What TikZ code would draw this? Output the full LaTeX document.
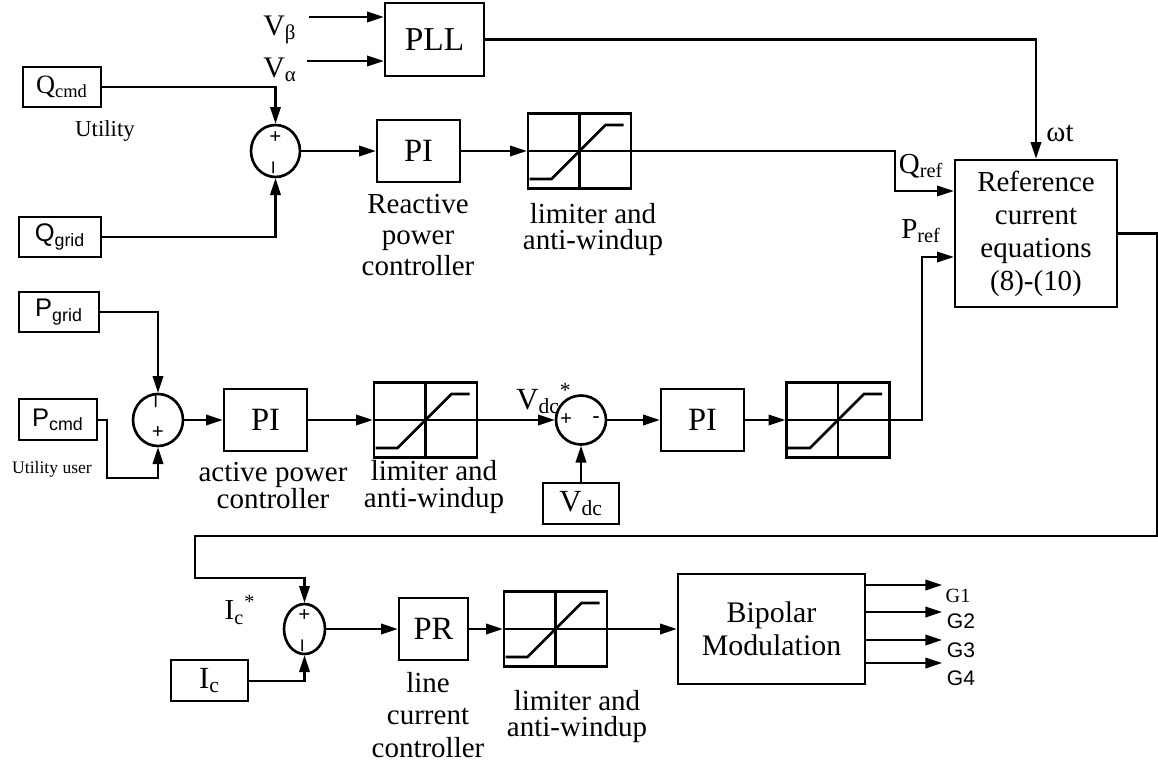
\documentclass[tikz,border=0pt]{standalone}
\usepackage{fontspec}
\setmainfont{Liberation Serif}
\newfontfamily\arialfont{Liberation Sans}
\usetikzlibrary{arrows.meta, shapes.geometric, calc}

\begin{document}
\begin{tikzpicture}[x=0.02cm, y=-0.02cm,
  blk/.style={draw, line width=1.5pt, inner sep=0pt, align=center, font=\fontsize{16.5}{18.8}\selectfont},
  inp/.style={blk, minimum width=1.56cm, minimum height=0.8cm, font=\fontsize{15}{16}\selectfont},
  sinp/.style={inp, font=\arialfont\fontsize{14.5}{16}\selectfont},
  ctl/.style={blk, minimum width=1.66cm, minimum height=1.24cm, font=\fontsize{18.5}{20}\selectfont},
  lim/.style={draw, line width=1.5pt, minimum width=2.06cm, minimum height=1.5cm, inner sep=0pt},
  sm/.style={draw, ellipse, line width=1.5pt, minimum width=1cm, minimum height=1.04cm, inner sep=0pt},
  sgn/.style={font=\fontsize{12}{12}\selectfont\bfseries, inner sep=0pt},
  sgnm/.style={font=\fontsize{13}{13}\selectfont\bfseries, inner sep=0pt, rotate=90},
  lbl/.style={font=\fontsize{16.5}{18.8}\selectfont, align=center, inner sep=0pt},
  wire/.style={line width=1.15pt},
  arr/.style={wire, -{Triangle[length=9.5pt, width=6pt]}},
]
  \useasboundingbox (0,0) rectangle (1158,765);

  % PLL
  \node[blk, minimum width=1.98cm, minimum height=1.46cm, font=\fontsize{19}{20}\selectfont] (pll) at (434.5, 39.5) {PLL};
  \coordinate (vb) at (309, 17);
  \coordinate (va) at (307, 61);
  \draw[arr] (vb) -- (vb -| pll.west);
  \draw[arr] (va) -- (va -| pll.west);
  \node[lbl, anchor=base west, font=\fontsize{17}{17}\selectfont] (vblbl) at (263, 35) {V\textsubscript{β}};
  \node[lbl, anchor=base west, font=\fontsize{17}{17}\selectfont] (valbl) at (263, 77) {V\textsubscript{α}};

  % Reference current block
  \node[blk] (ref) at (1036, 233.5) [minimum width=3.24cm, minimum height=2.94cm] {Reference\\current\\equations\\(8)-(10)};
  \draw[arr] (pll.east) -| (ref.north);
  \node[lbl] (wt) at (1060, 133) {ωt};
  \node[lbl] (qref) at (921, 166) {Q\textsubscript{ref}};
  \node[lbl] (pref) at (921, 231) {P\textsubscript{ref}};

  % Reactive power loop
  \node[inp] (qcmd) at (62, 87) {Q\textsubscript{cmd}};
  \node[sinp, minimum width=1.64cm] (qgrid) at (60, 237) {Q\textsubscript{grid}};
  \node[lbl, font=\fontsize{13}{15}\selectfont] (util) at (105, 131) {Utility};
  \node[sm, minimum width=0.98cm] (sq) at (275.5, 151) {};
  \node[sgn] (sqp) at (275.5, 138) {+};
  \node[sgnm] (sqm) at (275.5, 168) {–};
  \draw[arr] (qcmd.east) -| (sq.north);
  \draw[arr] (qgrid.east) -| (sq.south);
  \node[ctl] (piq) at (418.5, 151) {PI};
  \node[lim] (limq) at (579.5, 151) {};
  \draw[arr] (sq.east) -- (piq.west);
  \draw[arr] (piq.east) -- (limq.west);
  \node[lbl, anchor=north, font=\fontsize{16.5}{17.6}\selectfont] (rpc) at (418, 194) {Reactive\\power\\controller};
  \node[lbl, anchor=north, font=\fontsize{16.5}{15}\selectfont] (limqlbl) at (593, 203) {limiter and\\anti-windup};
  \coordinate (qj) at (895, 191);
  \draw[arr] (limq.east) -| (qj) -- (qj -| ref.west);

  % Active power and dc voltage loop
  \node[sinp, minimum width=1.6cm] (pgrid) at (59, 312) {P\textsubscript{grid}};
  \node[sinp, minimum width=1.56cm, minimum height=0.82cm] (pcmd) at (58, 419.5) {P\textsubscript{cmd}};
  \node[lbl, font=\fontsize{10}{12}\selectfont] (user) at (52, 469) {Utility user};
  \node[sm] (sp) at (158, 420) {};
  \node[sgnm] (spm) at (158, 402) {–};
  \node[sgn] (spp) at (158, 433) {+};
  \coordinate (pc) at (107, 478);
  \draw[arr] (pgrid.east) -| (sp.north);
  \draw[arr] (pcmd.east) -| (pc) -| (sp.south);
  \node[ctl] (pip) at (265.5, 420) {PI};
  \node[lim] (limp) at (425.5, 420) {};
  \node[sm, minimum height=0.98cm] (sv) at (581, 420) {};
  \node[sgn] (svp) at (566, 420) {+};
  \node[sgn] (svm) at (596, 420) {-};
  \node[blk, minimum width=1.52cm, minimum height=0.82cm, font=\fontsize{17.5}{19}\selectfont] (vdc) at (581, 503.5) {V\textsubscript{dc}};
  \node[lbl, anchor=base west, font=\fontsize{17.5}{17}\selectfont] (vdcref) at (516, 409) {V\textsubscript{dc}\textsuperscript{*}};
  \node[ctl] (pip2) at (702.5, 420) {PI};
  \node[lim] (limp2) at (838, 420) {};
  \draw[arr] (sp.east) -- (pip.west);
  \draw[arr] (pip.east) -- (limp.west);
  \draw[arr] (limp.east) -- (sv.west);
  \draw[arr] (vdc.north) -- (sv.south);
  \draw[arr] (sv.east) -- (pip2.west);
  \draw[arr] (pip2.east) -- (limp2.west);
  \coordinate (pj) at (922, 257);
  \draw[arr] (limp2.east) -| (pj) -- (pj -| ref.west);
  \node[lbl, anchor=north, font=\fontsize{16.5}{15.4}\selectfont] (apc) at (273, 462) {active power\\controller};
  \node[lbl, anchor=north, font=\fontsize{16.5}{15.4}\selectfont] (limplbl) at (434, 460) {limiter and\\anti-windup};

  % Line current loop
  \coordinate (lr) at (1157, 536);
  \coordinate (ll) at (195, 578);
  \node[sm, minimum width=0.82cm, minimum height=1cm] (si) at (304.5, 629) {};
  \node[sgn] (sip) at (304.5, 616) {+};
  \node[sgnm] (sim) at (304.5, 646) {–};
  \draw[arr] (ref.east) -| (lr) -| (ll) -| (si.north);
  \node[lbl] (icref) at (240, 610) {I\textsubscript{c}\textsuperscript{*}};
  \node[blk, minimum width=1.54cm, minimum height=0.82cm, font=\fontsize{17.5}{19}\selectfont] (ic) at (209.5, 680.5) {I\textsubscript{c}};
  \draw[arr] (ic.east) -| (si.south);
  \node[ctl, minimum width=1.38cm] (pr) at (433.5, 629) {PR};
  \node[lim] (limi) at (555.5, 629) {};
  \node[blk, minimum width=3.74cm, minimum height=2.2cm, font=\fontsize{17}{18.8}\selectfont] (bip) at (771.5, 629) {Bipolar\\Modulation};
  \draw[arr] (si.east) -- (pr.west);
  \draw[arr] (pr.east) -- (limi.west);
  \draw[arr] (limi.east) -- (bip.west);
  \node[lbl, anchor=north, font=\fontsize{16.5}{18.4}\selectfont] (lcc) at (428, 672) {line\\current\\controller};
  \node[lbl, anchor=north, font=\fontsize{16.5}{15}\selectfont] (limilbl) at (577, 690) {limiter and\\anti-windup};

  % gate signals
  \foreach \n/\y in {1/585, 2/612, 3/640, 4/663} {
    \coordinate (g\n) at (942, \y);
    \draw[arr] (bip.east |- g\n) -- (g\n);
  }
  \node[lbl, font=\fontsize{11.5}{12}\selectfont] (g1lbl) at (958, 596) {G1};
  \foreach \n/\y in {2/621, 3/650, 4/678}
    \node[lbl, font=\arialfont\fontsize{12}{12}\selectfont] (g\n lbl) at (961, \y) {G\n};

  % limiter characteristics
  \foreach \l in {limq, limp, limp2, limi} {
    \draw[line width=1.5pt] (\l.north) -- (\l.south);
    \draw[wire] (\l.west) -- (\l.east);
    \draw[line width=1.5pt] ($(\l.center)+(-50,28)$) -- ++(22,0) -- ($(\l.center)+(26,-26)$) -- ++(18,0);
  }
\end{tikzpicture}
\end{document}
